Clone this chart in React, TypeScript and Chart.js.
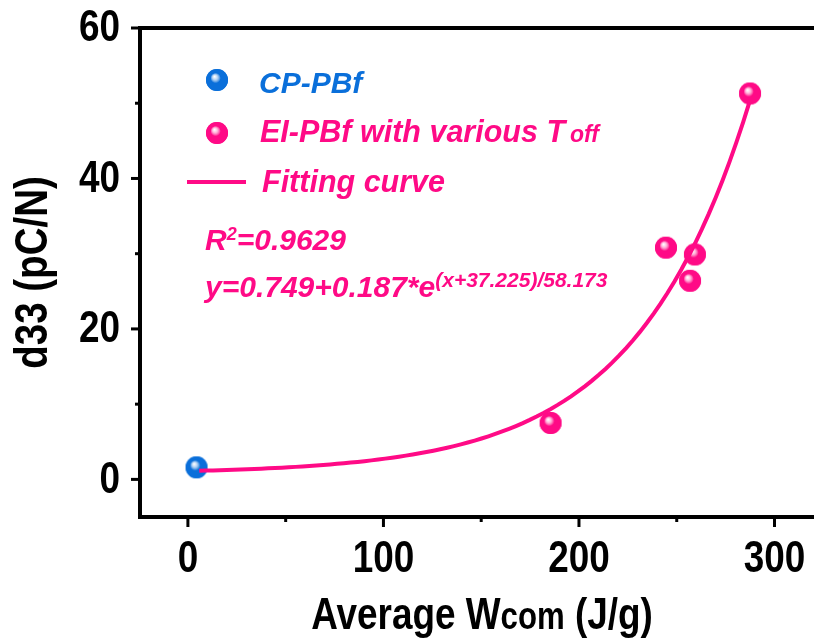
import { useEffect, useRef } from 'react';
import { Chart, registerables } from 'chart.js';

Chart.register(...registerables);

// Measured samples
const cpWork = [4.4];
const cpD33 = [1.6];
const elWork = [185.5, 244.5, 256.8, 259.3, 287.5];
const elD33 = [7.5, 30.8, 26.4, 29.9, 51.3];

// Exponential fit: y = y0 + a * e^((x + xc) / t)
const fitY0 = 0.749;
const fitA = 0.187;
const fitXc = 37.225;
const fitT = 58.173;
const fitFrom = 5.8;
const fitTo = 287.5;
const fitSamples = 80;

const xMinor = [50, 150, 250];
const yMinor = [10, 30, 50];

const BLUE = '#0a6fda';
const PINK = '#ff0a86';
const SANS = '"Liberation Sans", Arial, sans-serif';
// horizontal squeeze used for the condensed axis lettering
const NARROW_SCALE = 0.82;

function fitValue(x: number) {
  return fitY0 + fitA * Math.exp((x + fitXc) / fitT);
}

function makeSphere(color: string, r: number) {
  const size = 2 * r + 2;
  const c = document.createElement('canvas');
  c.width = size;
  c.height = size;
  const ctx = c.getContext('2d')!;
  const cx = size / 2;
  const cy = size / 2;
  const g = ctx.createRadialGradient(cx - 2.5, cy - 3.5, 0.3, cx, cy, r);
  g.addColorStop(0, '#ffffff');
  g.addColorStop(0.18, 'rgba(255,255,255,0.75)');
  g.addColorStop(0.45, color);
  g.addColorStop(1, color);
  ctx.beginPath();
  ctx.arc(cx, cy, r, 0, Math.PI * 2);
  ctx.fillStyle = color;
  ctx.fill();
  ctx.fillStyle = g;
  ctx.fill();
  return c;
}

type Run = { t: string; size: number; rise?: number; gap?: number };

function runsWidth(ctx: CanvasRenderingContext2D, runs: Run[], style: string, hs = 1) {
  let w = 0;
  for (const r of runs) {
    ctx.font = `${style} ${r.size}px ${SANS}`;
    w += (ctx.measureText(r.t).width + (r.gap || 0)) * hs;
  }
  return w;
}

function drawRuns(
  ctx: CanvasRenderingContext2D,
  x: number,
  baseline: number,
  runs: Run[],
  color: string,
  style: string,
  hs = 1
) {
  ctx.save();
  ctx.translate(x, baseline);
  ctx.scale(hs, 1);
  let cx = 0;
  ctx.fillStyle = color;
  ctx.textAlign = 'left';
  ctx.textBaseline = 'alphabetic';
  for (const r of runs) {
    ctx.font = `${style} ${r.size}px ${SANS}`;
    cx += r.gap || 0;
    ctx.fillText(r.t, cx, -(r.rise || 0));
    cx += ctx.measureText(r.t).width;
  }
  ctx.restore();
}

function narrowText(
  ctx: CanvasRenderingContext2D,
  text: string,
  x: number,
  y: number,
  align: CanvasTextAlign,
  baseline: CanvasTextBaseline,
  size: number
) {
  ctx.save();
  ctx.translate(x, y);
  ctx.scale(NARROW_SCALE, 1);
  ctx.font = `bold ${size}px ${SANS}`;
  ctx.textAlign = align;
  ctx.textBaseline = baseline;
  ctx.fillStyle = '#000';
  ctx.fillText(text, 0, 0);
  ctx.restore();
}

export default function App() {
  const ref = useRef<HTMLCanvasElement | null>(null);

  useEffect(() => {
    const canvas = ref.current;
    if (!canvas) return;

    const blueBall = makeSphere(BLUE, 11);
    const pinkBall = makeSphere(PINK, 11);

    const fitPts: { x: number; y: number }[] = [];
    for (let i = 0; i <= fitSamples; i++) {
      const x = fitFrom + ((fitTo - fitFrom) * i) / fitSamples;
      fitPts.push({ x, y: fitValue(x) });
    }

    const decor = {
      id: 'decor',
      afterDraw(chart: Chart) {
        const ctx = chart.ctx;
        const xs = chart.scales.x;
        const ys = chart.scales.y;
        const area = chart.chartArea;
        ctx.save();

        // top frame line
        ctx.strokeStyle = '#000';
        ctx.lineWidth = 4;
        ctx.beginPath();
        ctx.moveTo(area.left - 2, area.top);
        ctx.lineTo(chart.width, area.top);
        ctx.stroke();

        // tick marks and labels
        ctx.lineWidth = 3;
        const yBase = area.left;
        for (const t of ys.ticks) {
          const p = ys.getPixelForValue(t.value);
          ctx.beginPath();
          ctx.moveTo(yBase - 9, p);
          ctx.lineTo(yBase, p);
          ctx.stroke();
          narrowText(ctx, String(t.value), yBase - 20, p + 1, 'right', 'middle', 45);
        }
        for (const v of yMinor) {
          const p = ys.getPixelForValue(v);
          ctx.beginPath();
          ctx.moveTo(yBase - 5, p);
          ctx.lineTo(yBase, p);
          ctx.stroke();
        }
        const xBase = area.bottom;
        for (const t of xs.ticks) {
          const p = xs.getPixelForValue(t.value);
          ctx.beginPath();
          ctx.moveTo(p, xBase);
          ctx.lineTo(p, xBase + 10);
          ctx.stroke();
          narrowText(ctx, String(t.value), p, 572, 'center', 'alphabetic', 45);
        }
        for (const v of xMinor) {
          const p = xs.getPixelForValue(v);
          ctx.beginPath();
          ctx.moveTo(p, xBase);
          ctx.lineTo(p, xBase + 5);
          ctx.stroke();
        }

        // axis titles
        ctx.save();
        ctx.translate(47, (area.top + area.bottom) / 2);
        ctx.rotate(-Math.PI / 2);
        narrowText(ctx, 'd33 (pC/N)', 0, 0, 'center', 'alphabetic', 47);
        ctx.restore();

        const xTitle: Run[] = [
          { t: 'Average W', size: 45 },
          { t: 'com', size: 38 },
          { t: ' (J/g)', size: 45 },
        ];
        const wT = runsWidth(ctx, xTitle, 'bold', NARROW_SCALE);
        drawRuns(ctx, 482 - wT / 2, 629, xTitle, '#000', 'bold', NARROW_SCALE);

        // legend
        ctx.drawImage(blueBall, 217 - blueBall.width / 2, 80 - blueBall.height / 2);
        ctx.drawImage(pinkBall, 217 - pinkBall.width / 2, 133 - pinkBall.height / 2);
        drawRuns(ctx, 259, 93, [{ t: 'CP-PBf', size: 30 }], BLUE, 'italic bold');
        drawRuns(
          ctx,
          260,
          142,
          [
            { t: 'EI-PBf with various T', size: 30.5 },
            { t: 'off', size: 23, gap: 5 },
          ],
          PINK,
          'italic bold'
        );
        ctx.strokeStyle = PINK;
        ctx.lineWidth = 4;
        ctx.beginPath();
        ctx.moveTo(187, 182);
        ctx.lineTo(246, 182);
        ctx.stroke();
        drawRuns(ctx, 262, 192, [{ t: 'Fitting curve', size: 30.5 }], PINK, 'italic bold');

        // fit statistics
        drawRuns(
          ctx,
          205,
          250,
          [
            { t: 'R', size: 30 },
            { t: '2', size: 18, rise: 10 },
            { t: '=0.9629', size: 30 },
          ],
          PINK,
          'italic bold'
        );
        drawRuns(
          ctx,
          205,
          297,
          [
            { t: `y=${fitY0}+${fitA}*e`, size: 30 },
            { t: `(x+${fitXc})/${fitT}`, size: 21, rise: 10 },
          ],
          PINK,
          'italic bold'
        );

        ctx.restore();
      },
    };

    const chart = new Chart(canvas, {
      type: 'scatter',
      data: {
        datasets: [
          {
            type: 'line',
            label: 'Fitting curve',
            data: fitPts,
            borderColor: PINK,
            borderWidth: 4,
            pointRadius: 0,
            tension: 0,
            fill: false,
          },
          {
            label: 'EI-PBf with various Toff',
            data: elWork.map((x, i) => ({ x, y: elD33[i] })),
            pointStyle: pinkBall,
            pointRadius: 11,
          },
          {
            label: 'CP-PBf',
            data: cpWork.map((x, i) => ({ x, y: cpD33[i] })),
            pointStyle: blueBall,
            pointRadius: 11,
          },
        ],
      },
      options: {
        responsive: false,
        animation: false,
        events: [],
        layout: { autoPadding: false, padding: { top: 28, left: 0, right: 0, bottom: 0 } },
        plugins: {
          legend: { display: false },
          tooltip: { enabled: false },
        },
        scales: {
          x: {
            type: 'linear',
            position: 'bottom',
            min: -24.5,
            max: 320.2,
            afterFit: (s: any) => {
              s.height = 127;
            },
            grid: { display: false, drawTicks: false },
            border: { display: true, color: '#000', width: 4 },
            ticks: { stepSize: 100, includeBounds: false, display: false },
          },
          y: {
            type: 'linear',
            position: 'left',
            min: -5,
            max: 60,
            afterFit: (s: any) => {
              s.width = 140;
            },
            grid: { display: false, drawTicks: false },
            border: { display: true, color: '#000', width: 4 },
            ticks: { stepSize: 20, includeBounds: false, display: false },
          },
        },
      },
      plugins: [decor],
    });

    return () => chart.destroy();
  }, []);

  return (
    <div style={{ position: 'fixed', left: 0, top: 0, width: 814, height: 644, background: '#fff' }}>
      <canvas ref={ref} width={814} height={644} style={{ display: 'block' }} />
    </div>
  );
}
